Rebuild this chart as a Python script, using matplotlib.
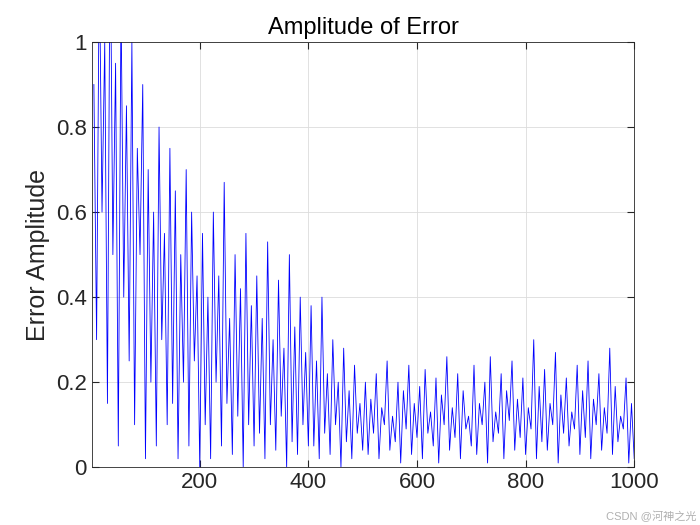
import matplotlib
matplotlib.use("Agg")
import matplotlib.pyplot as plt
import numpy as np

plt.rcParams['font.family'] = ['Liberation Sans', 'Noto Sans CJK SC', 'DejaVu Sans']

sample_step = 5
error_values = [
    0.9,0.3,1.2,0.6,1.0,0.15,1.3,0.5,0.95,0.05,1.1,0.4,0.85,0.25,1.0,0.1,0.75,0.5,0.9,0.02,
    0.7,0.2,0.6,0.05,0.8,0.3,0.55,0.1,0.75,0.15,0.65,0.02,0.5,0.2,0.7,0.05,0.6,0.25,0.45,0.0,
    0.55,0.1,0.4,0.02,0.6,0.2,0.45,0.05,0.67,0.15,0.35,0.03,0.5,0.12,0.42,0.0,0.55,0.1,0.38,0.05,
    0.45,0.08,0.35,0.02,0.53,0.1,0.3,0.04,0.44,0.12,0.28,0.0,0.5,0.06,0.33,0.03,0.4,0.1,0.27,0.05,
    0.38,0.05,0.25,0.02,0.4,0.08,0.22,0.03,0.3,0.1,0.2,0.0,0.28,0.06,0.18,0.02,0.24,0.08,0.15,0.04,
    0.2,0.03,0.16,0.08,0.22,0.02,0.14,0.1,0.25,0.04,0.12,0.06,0.2,0.01,0.18,0.09,0.24,0.03,0.15,0.07,
    0.19,0.02,0.23,0.08,0.13,0.05,0.21,0.01,0.17,0.1,0.26,0.04,0.14,0.07,0.22,0.02,0.18,0.09,0.12,0.05,
    0.24,0.03,0.15,0.1,0.2,0.01,0.26,0.06,0.13,0.08,0.22,0.02,0.18,0.11,0.25,0.04,0.16,0.07,0.21,0.03,
    0.14,0.09,0.3,0.02,0.19,0.06,0.23,0.04,0.15,0.1,0.27,0.01,0.17,0.08,0.21,0.05,0.13,0.09,0.24,0.03,
    0.18,0.07,0.25,0.02,0.16,0.1,0.22,0.04,0.14,0.08,0.28,0.03,0.19,0.06,0.12,0.09,0.21,0.01,0.15,0.02,
]
x = np.arange(1, len(error_values) + 1) * sample_step

fig = plt.figure(figsize=(7, 5.25), dpi=100)
ax = fig.add_axes([0.131, 0.11, 0.775, 0.81])
ax.plot(x, error_values, color='blue', linewidth=0.6)
ax.set_xlim(1, 1000)
ax.set_ylim(0, 1)
ax.set_xticks([200, 400, 600, 800, 1000])
ax.set_yticks([0, 0.2, 0.4, 0.6, 0.8, 1])
ax.set_yticklabels(['0', '0.2', '0.4', '0.6', '0.8', '1'])
ax.grid(True, color='#dcdcdc', linewidth=0.6)
ax.tick_params(direction='in', top=True, right=True, labelsize=16, colors='#262626', length=5)
for s in ax.spines.values():
    s.set_color('#262626'); s.set_linewidth(0.6)
ax.set_title('Amplitude of Error', fontsize=17, color='black')
ax.set_ylabel('Error Amplitude', fontsize=18, color='#262626')
fig.text(0.995, 0.005, 'CSDN @河神之光', ha='right', va='bottom', fontsize=8, color='#b0b0b0')
fig.savefig('out.png')
